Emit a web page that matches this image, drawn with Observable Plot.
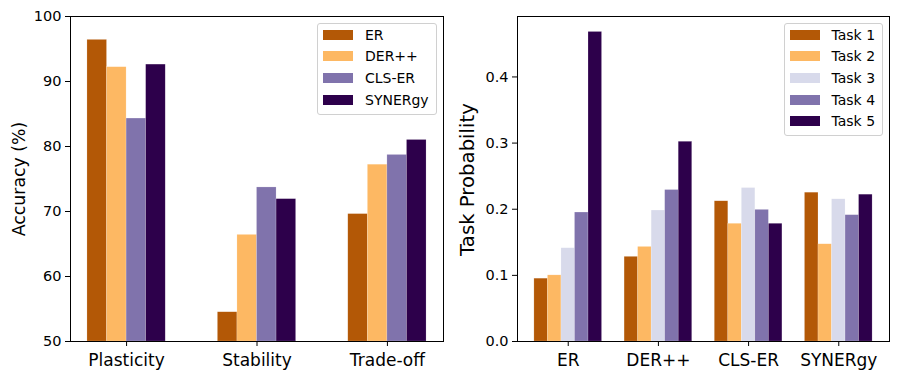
<!DOCTYPE html>
<html><head><meta charset="utf-8">
<script src="https://cdn.jsdelivr.net/npm/d3@7"></script>
<script src="https://cdn.jsdelivr.net/npm/@observablehq/plot@0.6"></script>
<style>
body{margin:0;background:#fff;font-family:"DejaVu Sans";}
#wrap{position:relative;width:900px;height:379px;display:flex;}
.panel{position:relative;width:450px;height:379px;}
.panel svg{display:block;}
.panel svg g[aria-label^="x-axis"] text{font-size:17px;}
.panel svg g[aria-label^="y-axis"] text{font-size:14.5px;}
.legend{position:absolute;background:rgba(255,255,255,0.85);border:1px solid #d0d0d0;border-radius:3px;box-sizing:border-box;}
.legend .row{position:absolute;height:22px;display:flex;align-items:center;font-size:14px;color:#000;white-space:nowrap;}
.legend .sw{position:absolute;width:30px;height:10px;}
.ylab{position:absolute;font-size:17px;transform:rotate(-90deg);transform-origin:center center;white-space:nowrap;color:#000;}
</style>
</head><body>
<div id="wrap"><div class="panel" id="left"></div><div class="panel" id="right"></div></div>
<script>
// ---- Left chart data ----
const metrics = ["Plasticity", "Stability", "Trade-off"];
const methods = ["ER", "DER++", "CLS-ER", "SYNERgy"];
const erAcc = [96.4, 54.5, 69.6];
const derAcc = [92.2, 66.4, 77.2];
const clsAcc = [84.3, 73.7, 78.7];
const synAcc = [92.6, 71.9, 81.0];
const methodColors = ["#b35806", "#fdb863", "#8073ac", "#2d004b"];
const accTicks = [50, 60, 70, 80, 90, 100];

// ---- Right chart data ----
const tasks = ["Task 1", "Task 2", "Task 3", "Task 4", "Task 5"];
const task1Prob = [0.095, 0.128, 0.212, 0.225];
const task2Prob = [0.100, 0.143, 0.178, 0.147];
const task3Prob = [0.141, 0.198, 0.232, 0.215];
const task4Prob = [0.195, 0.229, 0.199, 0.191];
const task5Prob = [0.468, 0.302, 0.178, 0.222];
const taskColors = ["#b35806", "#fdb863", "#d8daeb", "#8073ac", "#2d004b"];
const probTicks = [0.0, 0.1, 0.2, 0.3, 0.4];

const barW = 0.15;
function buildRows(seriesNames, seriesValues) {
  const rows = [];
  const n = seriesNames.length;
  seriesValues.forEach((vals, si) => {
    vals.forEach((v, ci) => {
      const off = (si - (n - 1) / 2) * barW;
      rows.push({series: seriesNames[si], ci, x1: ci + off - barW / 2, x2: ci + off + barW / 2, value: v});
    });
  });
  return rows;
}

const leftRows = buildRows(methods, [erAcc, derAcc, clsAcc, synAcc]);
const rightRows = buildRows(tasks, [task1Prob, task2Prob, task3Prob, task4Prob, task5Prob]);

function mkPlot(opts) {
  const {rows, cats, names, colors, yDomain, yTicks, yFmt, marginLeft, marginRight, xPad} = opts;
  const nS = names.length;
  const half = (nS * barW) / 2;
  const span = (cats.length - 1) + 2 * half;
  const xDomain = [-half - 0.05 * span, cats.length - 1 + half + 0.05 * span];
  return Plot.plot({
    width: 450, height: 379,
    marginLeft, marginRight, marginTop: 16, marginBottom: 38,
    style: {fontFamily: "DejaVu Sans", fontSize: "14.5px", color: "#000", background: "transparent", overflow: "visible"},
    x: {domain: xDomain, ticks: d3.range(cats.length), tickFormat: i => cats[i], tickSize: 5, tickPadding: 7, label: null},
    y: {domain: yDomain, ticks: yTicks, tickFormat: yFmt, tickSize: 5, tickPadding: 4, label: null},
    color: {domain: names, range: colors},
    marks: [
      Plot.rect(rows, {x1: "x1", x2: "x2", y1: () => yDomain[0], y2: "value", fill: "series", stroke: "white", strokeOpacity: 0.35, strokeWidth: 0.5}),
      Plot.frame({stroke: "#000", strokeWidth: 1})
    ]
  });
}

const left = document.getElementById("left");
left.appendChild(mkPlot({rows: leftRows, cats: metrics, names: methods, colors: methodColors,
  yDomain: [50, 100], yTicks: accTicks, yFmt: d => String(d), marginLeft: 70, marginRight: 7}));
const right = document.getElementById("right");
const probMax = d3.max([...task1Prob, ...task2Prob, ...task3Prob, ...task4Prob, ...task5Prob]) * 1.05;
right.appendChild(mkPlot({rows: rightRows, cats: methods, names: tasks, colors: taskColors,
  yDomain: [0, probMax], yTicks: probTicks, yFmt: d3.format(".1f"), marginLeft: 67, marginRight: 11}));

function addYLabel(panel, text, cx, cy, size) {
  const el = document.createElement("div");
  el.className = "ylab";
  el.textContent = text;
  el.style.fontSize = size + "px";
  panel.appendChild(el);
  const w = el.offsetWidth, h = el.offsetHeight;
  el.style.left = (cx - w / 2) + "px";
  el.style.top = (cy - h / 2) + "px";
}
addYLabel(left, "Accuracy (%)", 19, 179, 17.3);
addYLabel(right, "Task Probability", 17.5, 179, 19.7);

function addLegend(panel, names, colors, box) {
  const lg = document.createElement("div");
  lg.className = "legend";
  lg.style.left = box.x + "px"; lg.style.top = box.y + "px";
  lg.style.width = box.w + "px"; lg.style.height = box.h + "px";
  names.forEach((nm, i) => {
    const cy = 11.7 + 21.67 * i;
    const sw = document.createElement("div");
    sw.className = "sw";
    sw.style.background = colors[i];
    sw.style.left = "5px";
    sw.style.top = (cy - 5 - 1) + "px";
    lg.appendChild(sw);
    const r = document.createElement("div");
    r.className = "row";
    r.style.left = box.tx + "px";
    r.style.top = (cy - 11 - 1) + "px";
    r.textContent = nm;
    lg.appendChild(r);
  });
  panel.appendChild(lg);
}
addLegend(left, methods, methodColors, {x: 316.5, y: 23, w: 120, h: 92, tx: 47.5});
addLegend(right, tasks, taskColors, {x: 334, y: 23, w: 98.5, h: 113, tx: 46.5});
</script>
</body></html>
